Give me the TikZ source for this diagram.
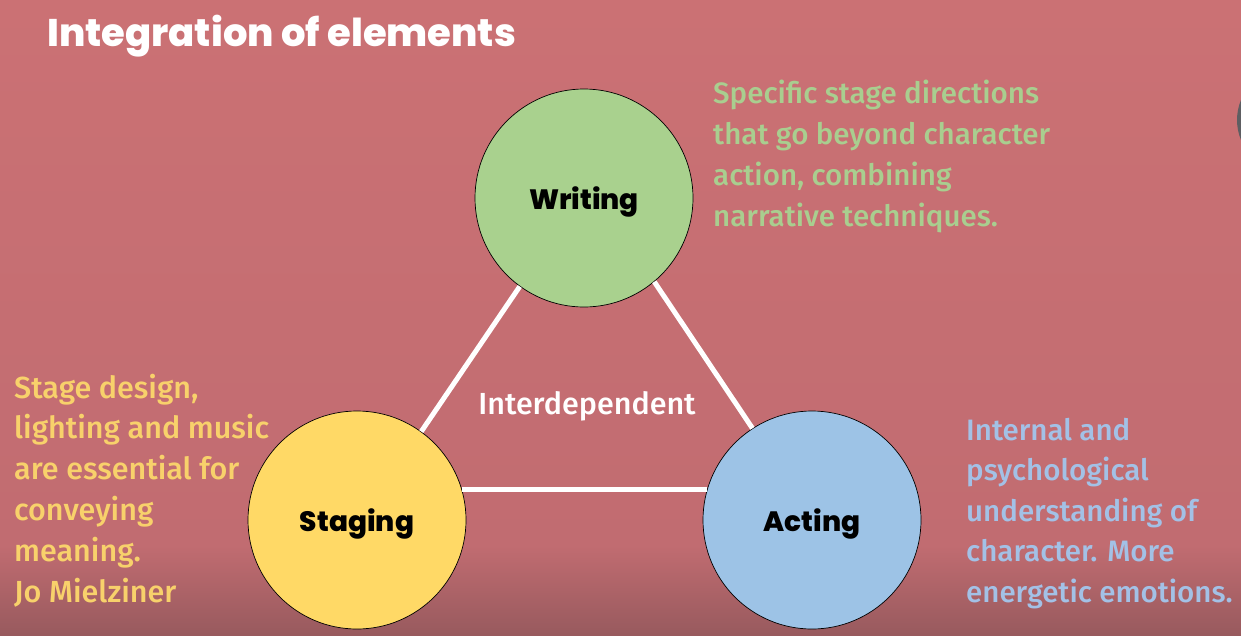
\documentclass[tikz,border=0pt]{standalone}
\usepackage{fontspec}
\setmainfont{Fira Sans}
\newfontfamily\bodyfont{Fira Sans Medium}
\newfontfamily\popfont{Poppins ExtraBold}
\definecolor{bgtop}{HTML}{CB7174}
\definecolor{bgmid}{HTML}{C16C71}
\definecolor{bgbot}{HTML}{985A5E}
\definecolor{cgreen}{HTML}{A9D18E}
\definecolor{cyellow}{HTML}{FFD966}
\definecolor{cblue}{HTML}{9DC3E6}
\definecolor{tgreen}{HTML}{A9CE8F}
\definecolor{tyellow}{HTML}{F8D16B}
\definecolor{tblue}{HTML}{A3C1E6}
\definecolor{knob}{HTML}{5E5E62}
\newcommand{\textlines}[2]{\vtop{\baselineskip=#1\lineskiplimit=-20pt #2}}
\tikzset{
  circ/.style={circle, draw=black, line width=0.7pt, minimum size=218pt, inner sep=0pt,
    text depth=0pt, font=\popfont\fontsize{28}{30}\selectfont, text=black},
  link/.style={draw=white, line width=5pt},
  body/.style={anchor=base west, inner sep=0pt, font=\bodyfont\fontsize{29.5}{40}\selectfont},
}
\begin{document}
\begin{tikzpicture}[x=1pt,y=-1pt]
\useasboundingbox (0,0) rectangle (1241,635);
\clip (0,0) rectangle (1241,635);
\shade[top color=bgtop, bottom color=bgmid] (0,0) rectangle (1241,546);
\shade[top color=bgmid, bottom color=bgbot] (0,545) rectangle (1241,635);
\fill[knob] (1289,120) circle (52);

\node[anchor=base west, inner sep=0pt, text=white, font=\popfont\fontsize{38.5}{40}\selectfont] (title) at (47,46) {Integration of elements};

\node[circ, fill=cgreen] (writing) at (584,198) {Writing};
\node[circ, fill=cyellow] (staging) at (357,520) {Staging};
\node[circ, fill=cblue] (acting) at (812,520) {Acting};

\draw[link] (writing.234) -- (staging.54);
\draw[link] (writing.310) -- (acting.123);
\draw[link] (staging.16) -- (acting.164);

\node[text=white, inner sep=0pt, text depth=0pt, font=\bodyfont\fontsize{30.5}{32}\selectfont] (inter) at (587,403) {Interdependent};

\node[body, text=tgreen] (wtext) at (713,103) {\textlines{41pt}{\hbox{Specific stage directions}\hbox{that go beyond character}\hbox{action, combining}\hbox{narrative techniques.}}};
\node[body, text=tyellow, font=\bodyfont\fontsize{30.5}{40}\selectfont] (stext) at (14,398) {\textlines{40.8pt}{\hbox{Stage design,}\hbox{lighting and music}\hbox{are essential for}\hbox{conveying}\hbox{meaning.}\hbox{Jo Mielziner}}};
\node[body, text=tblue] (atext) at (966,440) {\textlines{40.5pt}{\hbox{Internal and}\hbox{psychological}\hbox{understanding of}\hbox{character. More}\hbox{energetic emotions.}}};
\end{tikzpicture}
\end{document}
